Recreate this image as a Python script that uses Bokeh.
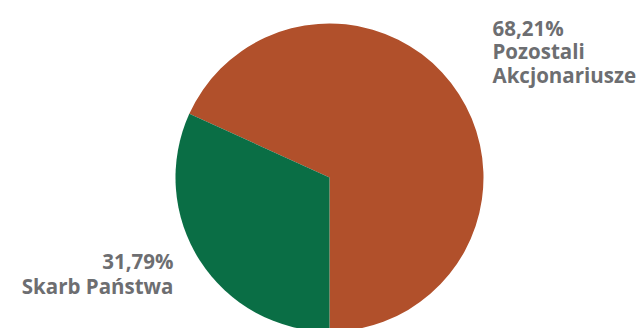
import math
from bokeh.plotting import figure
from bokeh.models import Range1d, ColumnDataSource
from bokeh.core.properties import value
from bokeh.embed import file_html
from bokeh.resources import INLINE

# Data
categories = ["Pozostali Akcjonariusze", "Skarb Państwa"]
shares = [68.21, 31.79]
colors = ["#b1502b", "#0a6e45"]
label_lines = [["68,21%", "Pozostali", "Akcjonariusze"], ["31,79%", "Skarb Państwa"]]

W, H = 643, 328
p = figure(width=W, height=H, output_backend="svg", toolbar_location=None,
           x_range=Range1d(0, W), y_range=Range1d(0, H), min_border=0)
p.axis.visible = False
p.grid.visible = False
p.outline_line_color = None
p.background_fill_color = "white"
p.border_fill_color = "white"

# Pie geometry (pixel units)
cx, cy, r = 329, H - 177, 154
total = sum(shares)
start = -math.pi / 2
starts, ends = [], []
for s in shares:
    a = 2 * math.pi * s / total
    starts.append(start)
    ends.append(start + a)
    start += a

src = ColumnDataSource(dict(start=starts, end=ends, color=colors, cat=categories))
p.wedge(x=cx, y=cy, radius=r, start_angle="start", end_angle="end",
        fill_color="color", line_color=None, source=src)

# Labels
txt_color = "#6d6e71"
fs = "20.5px"
# right label (left-aligned)
rx, ry0, dy = 492, H - 27, 23.5
for i, line in enumerate(label_lines[0]):
    p.text(x=[rx], y=[ry0 - i * dy], text=[line], text_font=value("Open Sans"),
           text_font_style="bold", text_font_size=fs, text_color=txt_color,
           text_align="left", text_baseline="alphabetic")
# left label (right-aligned)
lx, ly0 = 173, H - 260
for i, line in enumerate(label_lines[1]):
    p.text(x=[lx], y=[ly0 - i * 25], text=[line], text_font=value("Open Sans"),
           text_font_style="bold", text_font_size=fs, text_color=txt_color,
           text_align="right", text_baseline="alphabetic")

open("out.html", "w").write(file_html(p, INLINE))
